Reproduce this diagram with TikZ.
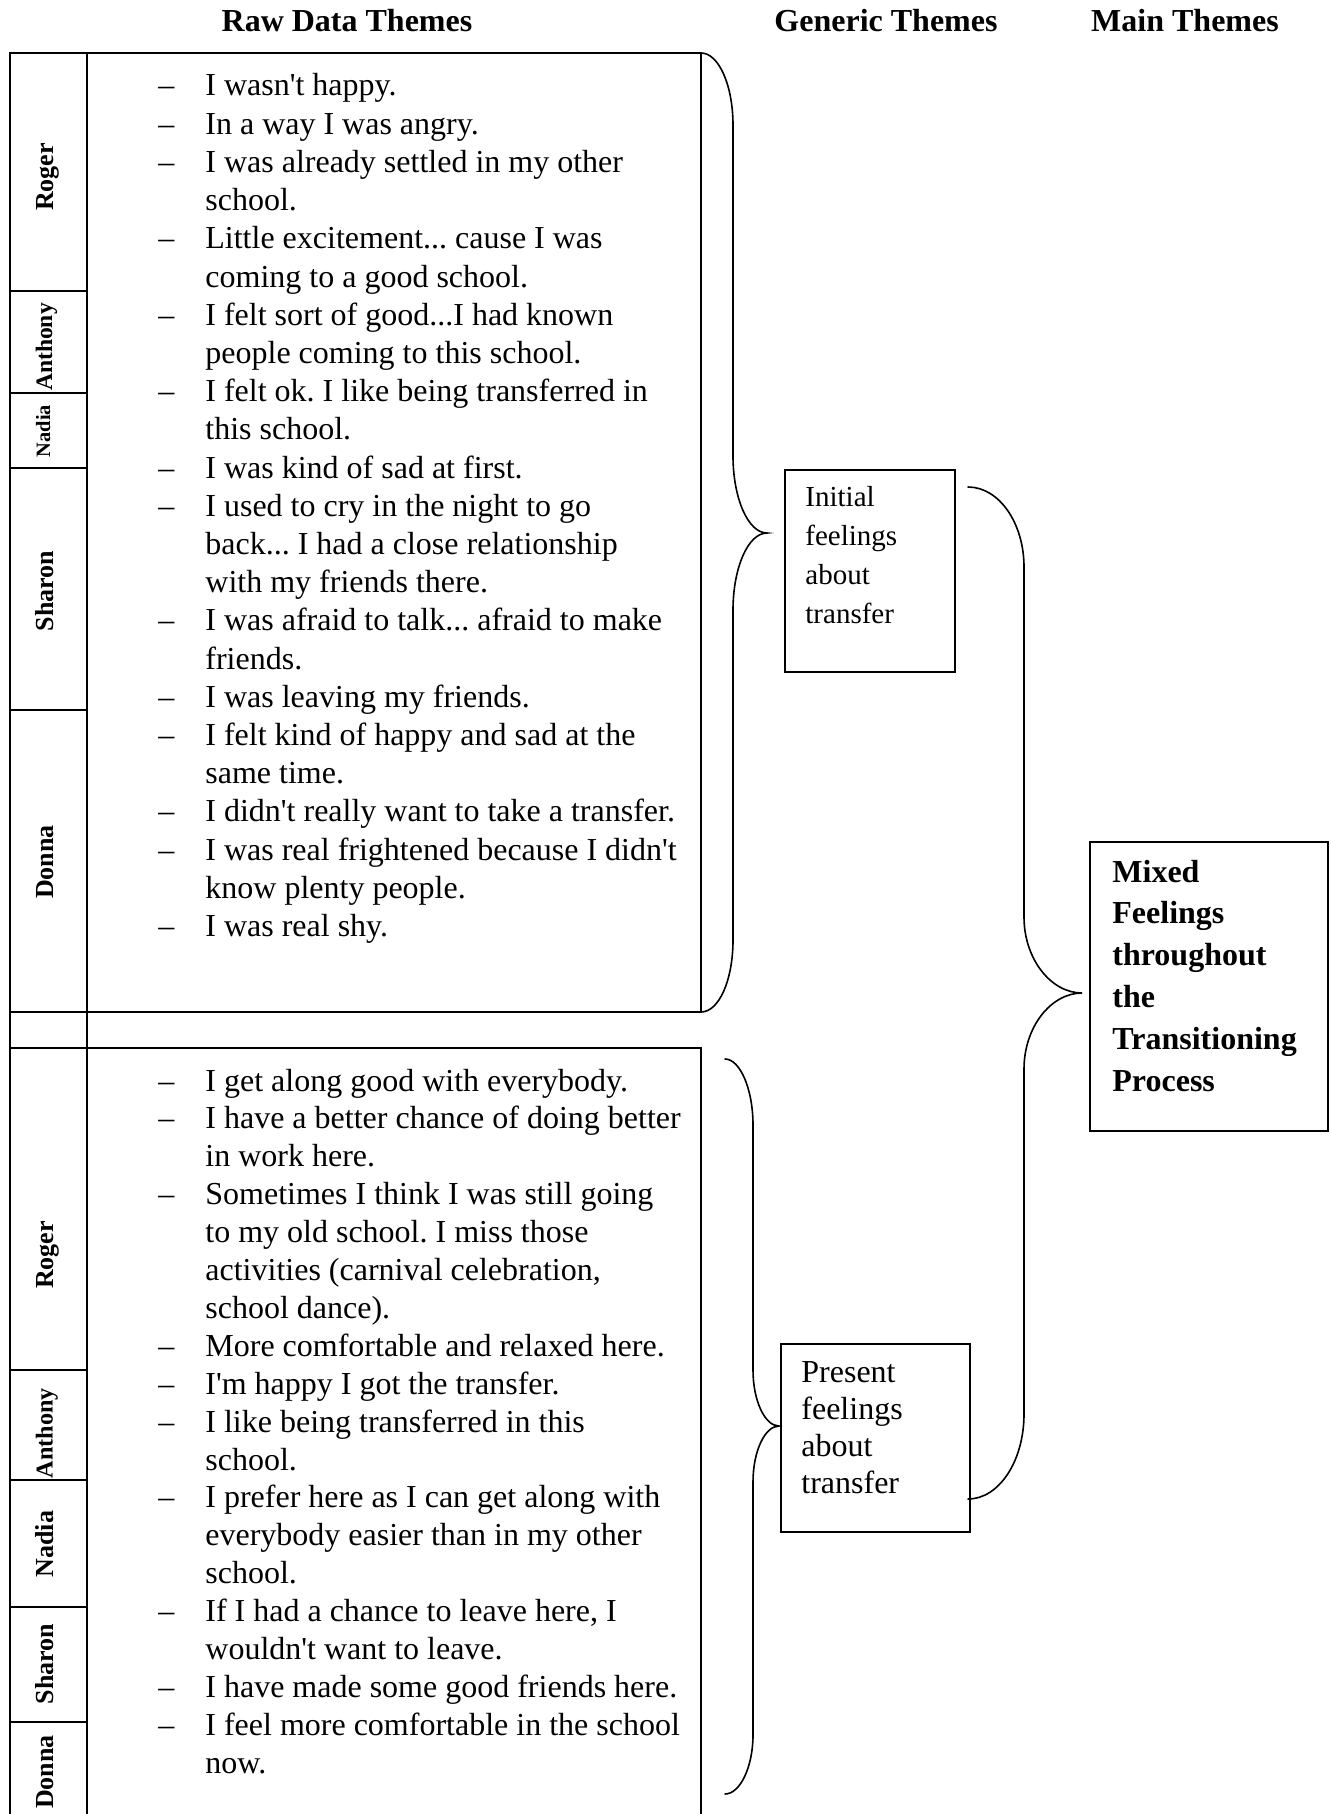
\documentclass[tikz,border=0pt]{standalone}
\usepackage{fontspec}
\setmainfont{Liberation Serif}
\newcommand\aposq{\textquotesingle}
\frenchspacing
\begin{document}
\begin{tikzpicture}[x=0.5pt,y=-0.5pt,
  rule/.style={line width=1.1pt, line cap=rect},
  bracepath/.style={line width=0.8pt, line cap=round},
  boxframe/.style={draw, line width=0.9pt, inner sep=0pt, anchor=north west},
  head/.style={font=\bfseries\fontsize{16}{19}\selectfont, anchor=base, inner sep=0pt},
  txt/.style={font=\fontsize{16}{19}\selectfont, anchor=base west, inner sep=0pt},
  smalltxt/.style={font=\fontsize{14.5}{17}\selectfont, anchor=base west, inner sep=0pt},
  boldtxt/.style={font=\bfseries\fontsize{16}{19}\selectfont, anchor=base west, inner sep=0pt},
  namecol/.style={rotate=90, anchor=base, inner sep=0pt}
]
% page
\fill[white] (0,0) rectangle (1331,1814);
\useasboundingbox (0,0) rectangle (1331,1814);

% column headings
\node[head] (hraw) at (347,32) {Raw Data Themes};
\node[head] (hgen) at (886,32) {Generic Themes};
\node[head] (hmain) at (1185,32) {Main Themes};

% table frame: upper block, spacer row, lower block
\draw[rule] (10,53) rectangle (701,1012);
\draw[rule] (10,1012) -- (10,1814);
\draw[rule] (87,53) -- (87,1814);
\draw[rule] (10,1048) -- (701,1048) -- (701,1814);
% speaker rows, upper block
\foreach \yy in {291,393,468,710} \draw[rule] (10,\yy) -- (87,\yy);
% speaker rows, lower block
\foreach \yy in {1370,1480,1607,1722} \draw[rule] (10,\yy) -- (87,\yy);

% speaker names, upper block
\node[namecol, font=\bfseries\fontsize{13}{15}\selectfont] (nA1) at (53.5,177) {Roger};
\node[namecol, font=\bfseries\fontsize{11.8}{14}\selectfont] (nA2) at (52,347) {Anthony};
\node[namecol, font=\bfseries\fontsize{10.2}{12}\selectfont] (nA3) at (50,431) {Nadia};
\node[namecol, font=\bfseries\fontsize{13}{15}\selectfont] (nA4) at (53.5,591) {Sharon};
\node[namecol, font=\bfseries\fontsize{13}{15}\selectfont] (nA5) at (53.5,862) {Donna};
% speaker names, lower block
\node[namecol, font=\bfseries\fontsize{13}{15}\selectfont] (nB1) at (53.5,1255) {Roger};
\node[namecol, font=\bfseries\fontsize{12.1}{14}\selectfont] (nB2) at (52.5,1433) {Anthony};
\node[namecol, font=\bfseries\fontsize{13}{15}\selectfont] (nB3) at (53.5,1544) {Nadia};
\node[namecol, font=\bfseries\fontsize{13}{15}\selectfont] (nB4) at (53.5,1664) {Sharon};
\node[namecol, font=\bfseries\fontsize{13}{15}\selectfont] (nB5) at (53.5,1772) {Donna};

% quotations, upper block
\foreach \lnum/\ltext in {
  0/{I wasn\aposq t happy.},
  1/{In a way I was angry.},
  2/{I was already settled in my other},
  3/{school.},
  4/{Little excitement... cause I was},
  5/{coming to a good school.},
  6/{I felt sort of good...I had known},
  7/{people coming to this school.},
  8/{I felt ok. I like being transferred in},
  9/{this school.},
  10/{I was kind of sad at first.},
  11/{I used to cry in the night to go},
  12/{back... I had a close relationship},
  13/{with my friends there.},
  14/{I was afraid to talk... afraid to make},
  15/{friends.},
  16/{I was leaving my friends.},
  17/{I felt kind of happy and sad at the},
  18/{same time.},
  19/{I didn\aposq t really want to take a transfer.},
  20/{I was real frightened because I didn\aposq t},
  21/{know plenty people.},
  22/{I was real shy.}}
  \node[txt] (qA-\lnum) at (205,{96+38.2*\lnum}) {\ltext};
\foreach \lnum in {0,1,2,4,6,8,10,11,14,16,17,19,20,22}
  \node[txt] (dA-\lnum) at (158,{96+38.2*\lnum}) {--};

% quotations, lower block
\foreach \lnum/\ltext in {
  0/{I get along good with everybody.},
  1/{I have a better chance of doing better},
  2/{in work here.},
  3/{Sometimes I think I was still going},
  4/{to my old school. I miss those},
  5/{activities (carnival celebration,},
  6/{school dance).},
  7/{More comfortable and relaxed here.},
  8/{I\aposq m happy I got the transfer.},
  9/{I like being transferred in this},
  10/{school.},
  11/{I prefer here as I can get along with},
  12/{everybody easier than in my other},
  13/{school.},
  14/{If I had a chance to leave here, I},
  15/{wouldn\aposq t want to leave.},
  16/{I have made some good friends here.},
  17/{I feel more comfortable in the school},
  18/{now.}}
  \node[txt] (qB-\lnum) at (205,{1091+37.9*\lnum}) {\ltext};
\foreach \lnum in {0,1,3,7,8,9,11,14,16,17}
  \node[txt] (dB-\lnum) at (158,{1091+37.9*\lnum}) {--};

% generic themes
\node[boxframe, minimum width=85pt, minimum height=101pt] (initial) at (784,469) {};
\foreach \lnum/\ltext in {0/Initial,1/feelings,2/about,3/transfer}
  \node[smalltxt] (ini-\lnum) at (805,{506+39*\lnum}) {\ltext};
\node[boxframe, minimum width=94.5pt, minimum height=94pt] (present) at (780,1343) {};
\foreach \lnum/\ltext in {0/Present,1/feelings,2/about,3/transfer}
  \node[txt] (pre-\lnum) at (801,{1382+37.1*\lnum}) {\ltext};

% main theme
\node[boxframe, minimum width=119pt, minimum height=144.5pt] (mixed) at (1089,841) {};
\foreach \lnum/\ltext in {0/Mixed,1/Feelings,2/throughout,3/the,4/Transitioning,5/Process}
  \node[boldtxt] (mix-\lnum) at (1112,{882+41.8*\lnum}) {\ltext};

% brace ends and tips
\coordinate (rawA-ne) at (701,53);
\coordinate (rawA-se) at (701,1012);
\coordinate (tipA) at (767,533);
\coordinate (rawB-top) at (725,1059);
\coordinate (rawB-bot) at (725,1794);
\coordinate (tipB) at (779,1426);
\coordinate (genC-top) at (968,487);
\coordinate (genC-bot) at (968,1499);
\coordinate (tipC) at (1082,993);

% brace: upper quotations -> initial feelings
\draw[bracepath] (rawA-ne) .. controls (719,53) and (733,86) .. (733,125)
  -- (733,456) .. controls (733,498) and (748,533) .. (tipA)
  .. controls (748,533) and (733,568) .. (733,610)
  -- (733,940) .. controls (733,980) and (719,1012) .. (rawA-se);
% brace: lower quotations -> present feelings
\draw[bracepath] (rawB-top) .. controls (740,1059) and (753,1089) .. (753,1125)
  -- (753,1370) .. controls (753,1401) and (765,1426) .. (tipB)
  .. controls (765,1426) and (753,1451) .. (753,1482)
  -- (753,1735) .. controls (753,1767) and (740,1794) .. (rawB-bot);
% brace: generic themes -> main theme
\draw[bracepath] (genC-top) .. controls (999,487) and (1024,523) .. (1024,567)
  -- (1024,917) .. controls (1024,959) and (1051,993) .. (tipC)
  .. controls (1051,993) and (1024,1027) .. (1024,1069)
  -- (1024,1414) .. controls (1024,1461) and (999,1499) .. (genC-bot);
\end{tikzpicture}
\end{document}
